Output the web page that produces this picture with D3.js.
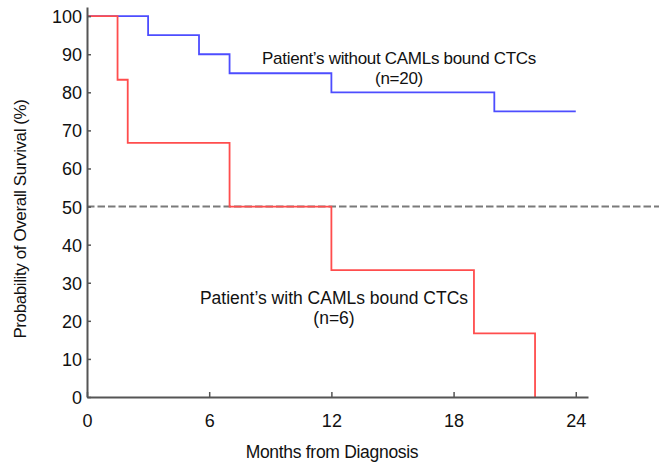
<!DOCTYPE html>
<html>
<head>
<meta charset="utf-8">
<script src="https://cdn.jsdelivr.net/npm/d3@7"></script>
<style>
  html, body { margin: 0; padding: 0; background: #fff; }
  svg { display: block; font-family: "Liberation Sans", Arial, sans-serif; }
</style>
</head>
<body>
<svg id="chart" width="659" height="464"></svg>
<script>
// Data
const xTicks = [0, 6, 12, 18, 24];
const yTicks = [0, 10, 20, 30, 40, 50, 60, 70, 80, 90, 100];
const withoutTimes = [0, 3, 5.5, 7, 12, 20, 24];
const withoutSurv  = [100, 95, 90, 85, 80, 75, 75];
const withTimes = [0, 1.5, 2, 7, 12, 19, 22];
const withSurv  = [100, 83.3, 66.7, 50, 33.3, 16.7, 0];
const medianLine = 50;
const labelWithout = ["Patient\u2019s without CAMLs bound CTCs", "(n=20)"];
const labelWith = ["Patient\u2019s with CAMLs bound CTCs", "(n=6)"];
const xTitle = "Months from Diagnosis";
const yTitle = "Probability of Overall Survival (%)";

const svg = d3.select("#chart");
const W = 659, H = 464;
const x = d3.scaleLinear().domain([0, 24.6]).range([87, 588]);
const y = d3.scaleLinear().domain([0, 102.4]).range([397, 7]);
const axisColor = "#555";

// dashed 50% line
svg.append("line")
  .attr("x1", x(0)).attr("x2", W)
  .attr("y1", y(medianLine)).attr("y2", y(medianLine))
  .attr("stroke", "#7a7a7a").attr("stroke-width", 2)
  .attr("stroke-dasharray", "7.5,3");

const line = d3.line().x(d => x(d[0])).y(d => y(d[1])).curve(d3.curveStepAfter);

svg.append("path")
  .datum(withoutTimes.map((t, i) => [t, withoutSurv[i]]))
  .attr("d", line).attr("fill", "none")
  .attr("stroke", "#4d4dff").attr("stroke-width", 1.8);

svg.append("path")
  .datum(withTimes.map((t, i) => [t, withSurv[i]]))
  .attr("d", line).attr("fill", "none")
  .attr("stroke", "#ff4d4d").attr("stroke-width", 1.8);

// axes
const xAxis = d3.axisBottom(x).tickValues(xTicks).tickSize(-5).tickPadding(17).tickSizeOuter(0);
const gx = svg.append("g").attr("transform", `translate(0,${y(0)})`).call(xAxis);
const yAxis = d3.axisLeft(y).tickValues(yTicks).tickSize(-4).tickPadding(5).tickSizeOuter(0);
const gy = svg.append("g").attr("transform", `translate(${x(0)},0)`).call(yAxis);

[gx, gy].forEach(g => {
  g.select(".domain").attr("stroke", axisColor).attr("stroke-width", 2);
  g.selectAll(".tick line").attr("stroke", axisColor).attr("stroke-width", 1.5);
  g.selectAll(".tick text").attr("fill", "#111").style("font-size", "18px")
    .style("font-family", "'Liberation Sans', Arial, sans-serif");
});
gy.selectAll(".tick text").attr("dy", "0.36em");
gx.selectAll(".tick text").attr("dy", "0.71em");

// labels
function label(lines, cx, y1, y2, size, spacing) {
  [[lines[0], y1], [lines[1], y2]].forEach(([txt, yy]) => {
    svg.append("text").attr("x", cx).attr("y", yy)
      .attr("text-anchor", "middle").attr("fill", "#111")
      .style("font-size", size).style("letter-spacing", spacing).text(txt);
  });
}
label(labelWithout, 399, 64, 84, "17px", "-0.3px");
label(labelWith, 334, 304, 324, "17.5px", "0px");

svg.append("text").attr("x", 332).attr("y", 458).attr("text-anchor", "middle")
  .attr("fill", "#111").style("font-size", "17.5px").style("letter-spacing", "-0.3px").text(xTitle);
svg.append("text").attr("transform", "translate(26,219) rotate(-90)")
  .attr("text-anchor", "middle").attr("fill", "#111").style("font-size", "17px")
  .style("letter-spacing", "-0.4px").text(yTitle);
</script>
</body>
</html>
